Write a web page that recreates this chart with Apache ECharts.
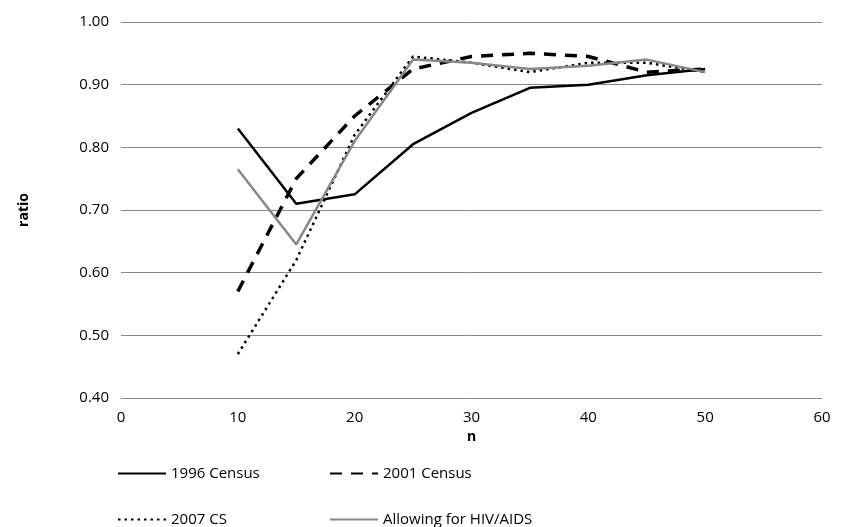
<!DOCTYPE html>
<html><head><meta charset="utf-8">
<script src="https://cdn.jsdelivr.net/npm/echarts@6/dist/echarts.min.js"></script>
<style>body{margin:0}#c{width:845px;height:527px}</style></head>
<body><div id="c"></div>
<script>
const xs=[10,15,20,25,30,35,40,45,50];
const s1996=[0.83,0.71,0.725,0.805,0.855,0.895,0.90,0.915,0.925];
const s2001=[0.57,0.75,0.85,0.925,0.945,0.95,0.945,0.92,0.925];
const s2007=[0.47,0.62,0.82,0.945,0.935,0.92,0.935,0.935,0.92];
const sHIV=[0.765,0.645,0.81,0.94,0.935,0.925,0.93,0.94,0.92];
const names=['1996 Census','2001 Census','2007 CS','Allowing for HIV/AIDS'];
const pts=a=>xs.map((x,i)=>[x,a[i]]);
const F='Open Sans, Liberation Sans, sans-serif';
const mk=(name,data,color,type,w)=>({name,type:'line',data:pts(data),symbol:'none',
  lineStyle:{color,width:w,type},itemStyle:{color}});
const chart=echarts.init(document.getElementById('c'));
chart.setOption({
  animation:false,
  grid:{left:121,right:23,top:22,bottom:129},
  xAxis:{type:'value',min:0,max:60,interval:10,name:'n',nameLocation:'middle',nameGap:27,
    nameTextStyle:{fontFamily:F,fontSize:14,fontWeight:'bold',color:'#000'},
    axisLine:{lineStyle:{color:'#888'}},axisTick:{show:false},splitLine:{show:false},
    axisLabel:{fontFamily:F,fontSize:15,color:'#000',margin:12}},
  yAxis:{type:'value',min:0.4,max:1.0,interval:0.1,name:'ratio',nameLocation:'middle',nameGap:90,
    nameTextStyle:{fontFamily:F,fontSize:14,fontWeight:'bold',color:'#000'},
    axisLine:{show:false},axisTick:{show:false},splitLine:{lineStyle:{color:'#888'}},
    axisLabel:{fontFamily:F,fontSize:15,color:'#000',margin:12,formatter:v=>v.toFixed(2)}},
  legend:[
    {data:[names[0]],left:112,top:461},{data:[names[1]],left:324,top:461},
    {data:[names[2]],left:112,top:507},{data:[names[3]],left:324,top:507}
  ].map(l=>Object.assign(l,{itemWidth:48,itemHeight:14,itemStyle:{opacity:0},textStyle:{fontFamily:F,fontSize:15,color:'#000'}})),
  series:[
    mk(names[0],s1996,'#000','solid',2.5),
    mk(names[1],s2001,'#000',[12,9],3.5),
    mk(names[2],s2007,'#000',[2.5,4],2.5),
    mk(names[3],sHIV,'#888','solid',2.5)
  ]
});
</script></body></html>
